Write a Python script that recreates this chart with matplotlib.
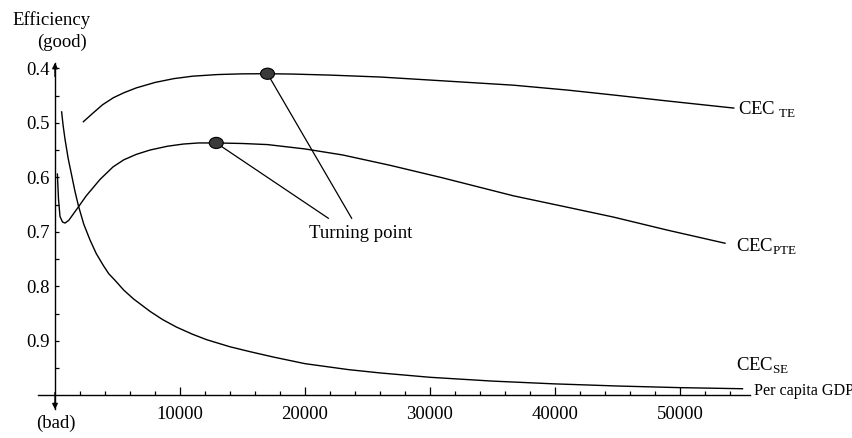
import matplotlib
matplotlib.use("Agg")
import matplotlib.pyplot as plt
from matplotlib.patches import Ellipse

plt.rcParams['font.family'] = ['Liberation Serif', 'DejaVu Serif']
plt.rcParams['mathtext.fontset'] = 'custom'
plt.rcParams['mathtext.rm'] = 'Liberation Serif'

# values (efficiency, smaller = better)
te_x = [2270, 3000, 3800, 4670, 5500, 6500, 8000, 9500, 11000, 13000, 15000, 17000,
        19000, 22000, 26000, 31000, 36670, 41000, 44670, 49000, 54300]
te_y = [0.498, 0.483, 0.467, 0.454, 0.445, 0.436, 0.426, 0.419, 0.4145, 0.4115, 0.4102, 0.410,
        0.4106, 0.4125, 0.416, 0.423, 0.431, 0.440, 0.449, 0.460, 0.473]

pte_x = [190, 280, 400, 600, 800, 1100, 1760, 2500, 3600, 4640, 5500, 6500, 7600, 9000,
         10270, 11500, 12900, 15000, 17000, 20000, 23000, 26800, 31000, 36670, 41000,
         44670, 49000, 53600]
pte_y = [0.594, 0.640, 0.672, 0.682, 0.684, 0.679, 0.658, 0.634, 0.604, 0.581, 0.568, 0.558,
         0.550, 0.543, 0.539, 0.537, 0.537, 0.538, 0.540, 0.548, 0.559, 0.578, 0.601, 0.634,
         0.655, 0.673, 0.697, 0.721]

se_x = [530, 650, 800, 1050, 1330, 1600, 1870, 2300, 2800, 3300, 3870, 4300, 4800, 5500, 6270,
        7600, 8600, 9730, 11000, 12130, 14000, 15600, 17500, 20000, 23500, 26000, 30000,
        35000, 39870, 45000, 50000, 55000]
se_y = [0.480, 0.505, 0.530, 0.565, 0.596, 0.626, 0.652, 0.686, 0.715, 0.740, 0.762, 0.777,
        0.789, 0.807, 0.823, 0.846, 0.861, 0.875, 0.888, 0.898, 0.911, 0.920, 0.930, 0.942,
        0.953, 0.959, 0.967, 0.974, 0.979, 0.983, 0.986, 0.988]

tp_x = [17000, 12900]
tp_y = [0.410, 0.537]

xticks = [10000, 20000, 30000, 40000, 50000]
yticks = [0.4, 0.5, 0.6, 0.7, 0.8, 0.9]

fig = plt.figure(figsize=(8.53, 4.38), dpi=100)
ax = fig.add_axes([0, 0, 1, 1])
ax.set_xlim(-4400, 63840)
ax.set_ylim(1.0784, 0.2747)

fs = 13.5
lw = 1.0

ax.plot(te_x, te_y, color='black', lw=lw)
ax.plot(pte_x, pte_y, color='black', lw=lw)
ax.plot(se_x, se_y, color='black', lw=lw)

# axes as spines crossing at (0, 1.0)
for s in ['top', 'right']:
    ax.spines[s].set_visible(False)
ax.spines['left'].set_position(('data', 0))
ax.spines['bottom'].set_position(('data', 1.0))
ax.spines['left'].set_bounds(0.39, 1.025)
ax.spines['bottom'].set_bounds(-1360, 55600)
ax.spines['left'].set_linewidth(1.0)
ax.spines['bottom'].set_linewidth(1.0)

ax.set_xticks(xticks)
ax.set_xticklabels([str(v) for v in xticks])
ax.set_xticks(range(2000, 56000, 2000), minor=True)
ax.set_yticks(yticks)
ax.set_yticklabels([f'{v:.1f}' for v in yticks])
ax.set_yticks([0.45, 0.55, 0.65, 0.75, 0.85, 0.95], minor=True)
ax.tick_params(axis='x', which='major', direction='in', length=6, width=0.9, pad=8, labelsize=fs)
ax.tick_params(axis='x', which='minor', direction='in', length=3, width=0.9)
ax.tick_params(axis='y', which='both', direction='in', length=3, width=0.9, pad=4, labelsize=fs)

# arrow heads on the y axis
ax.annotate('', xy=(0, 0.3847), xytext=(0, 0.42),
            arrowprops=dict(arrowstyle='-|>', color='black', lw=1.0, mutation_scale=8))
ax.annotate('', xy=(0, 1.031), xytext=(0, 0.99),
            arrowprops=dict(arrowstyle='-|>', color='black', lw=1.0, mutation_scale=8))

# turning points
for x, y in zip(tp_x, tp_y):
    ax.add_patch(Ellipse((x, y), 1120, 0.0205, facecolor='#3a3a3a', edgecolor='black', lw=0.8, zorder=5))
ax.plot([tp_x[0], 23733], [tp_y[0], 0.6752], color='black', lw=0.9)
ax.plot([tp_x[1], 21867], [tp_y[1], 0.6752], color='black', lw=0.9)
ax.text(20340, 0.7108, 'Turning point', fontsize=fs, va='baseline', ha='left')

# labels
ax.text(54640, 0.486, r'CEC$_{\ \mathrm{TE}}$', fontsize=fs, va='baseline')
ax.text(54480, 0.737, r'CEC$_{\mathrm{PTE}}$', fontsize=fs, va='baseline')
ax.text(54480, 0.955, r'CEC$_{\mathrm{SE}}$', fontsize=fs, va='baseline')
ax.text(55900, 1.0, 'Per capita GDP', fontsize=11.6, va='baseline')
ax.text(-3440, 0.3206, 'Efficiency', fontsize=fs, va='baseline')
ax.text(-1440, 0.3604, '(good)', fontsize=fs, va='baseline')
ax.text(-1520, 1.060, '(bad)', fontsize=fs, va='baseline')

fig.savefig('out.png', dpi=100)
